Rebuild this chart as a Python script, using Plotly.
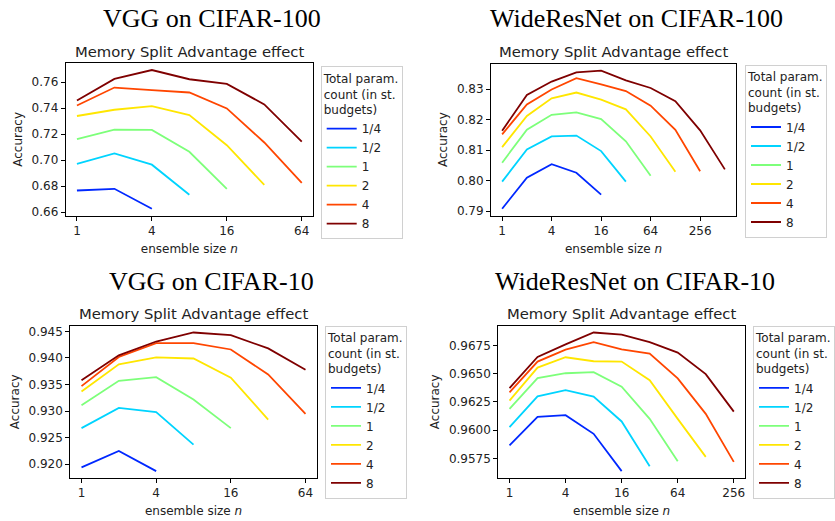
import numpy as np
import plotly.graph_objects as go

# ---------------- data ----------------
budget_labels = ["1/4", "1/2", "1", "2", "4", "8"]
colors = ["#0028FF", "#00D4FF", "#7DFF7A", "#FFE600", "#FF4600", "#7F0000"]
n_values = [1, 2, 4, 8, 16, 32, 64, 128, 256, 512]

vgg_c100 = [
    [0.6766, 0.6779, 0.6626],
    [0.6972, 0.7052, 0.6965, 0.6733],
    [0.7161, 0.7235, 0.7233, 0.7064, 0.6779],
    [0.7340, 0.7388, 0.7416, 0.7347, 0.7115, 0.6809],
    [0.7421, 0.7559, 0.7539, 0.7521, 0.7398, 0.7136, 0.6824],
    [0.7460, 0.7626, 0.7694, 0.7623, 0.7587, 0.7429, 0.7143],
]
wrn_c100 = [
    [0.7908, 0.8010, 0.8054, 0.8026, 0.7954],
    [0.7997, 0.8102, 0.8145, 0.8148, 0.8097, 0.7997],
    [0.8059, 0.8167, 0.8216, 0.8224, 0.8202, 0.8129, 0.8016],
    [0.8110, 0.8212, 0.8270, 0.8289, 0.8266, 0.8234, 0.8145, 0.8029],
    [0.8152, 0.8250, 0.8299, 0.8336, 0.8316, 0.8294, 0.8246, 0.8167, 0.8031],
    [0.8164, 0.8281, 0.8325, 0.8355, 0.8361, 0.8329, 0.8304, 0.8261, 0.8165, 0.8037],
]
vgg_c10 = [
    [0.9194, 0.9225, 0.9187],
    [0.9268, 0.9306, 0.9298, 0.9237],
    [0.9311, 0.9357, 0.9364, 0.9322, 0.9268],
    [0.9337, 0.9388, 0.9401, 0.9399, 0.9363, 0.9284],
    [0.9347, 0.9402, 0.9428, 0.9428, 0.9416, 0.9369, 0.9295],
    [0.9358, 0.9405, 0.9431, 0.9448, 0.9443, 0.9418, 0.9378],
]
wrn_c10 = [
    [0.95867, 0.96118, 0.96133, 0.95969, 0.95639],
    [0.96028, 0.96300, 0.96355, 0.96297, 0.96078, 0.95683],
    [0.96189, 0.96461, 0.96504, 0.96513, 0.96385, 0.96101, 0.95727],
    [0.96262, 0.96554, 0.96645, 0.96610, 0.96607, 0.96443, 0.96101, 0.95765],
    [0.96335, 0.96607, 0.96712, 0.96779, 0.96715, 0.96677, 0.96458, 0.96145, 0.95721],
    [0.96373, 0.96648, 0.96759, 0.96864, 0.96846, 0.96779, 0.96686, 0.96496, 0.96165],
]

titles = ["VGG on CIFAR-100", "WideResNet on CIFAR-100", "VGG on CIFAR-10", "WideResNet on CIFAR-10"]
subtitle = "Memory Split Advantage effect"
legend_title = "Total param.<br>count (in st.<br>budgets)"
x_ticks_small = [1, 4, 16, 64]
x_ticks_large = [1, 4, 16, 64, 256]

# ---------------- layout geometry (pixels) ----------------
W, H = 835, 521
SANS = "DejaVu Sans"
SERIF = "Liberation Serif"
TXT = "#222222"

panels = [
    dict(data=vgg_c100, box=(65.7, 313.0, 62.7, 216.7), xt=x_ticks_small, yfmt=".2f", dtick=0.02,
         leg=(320.7, 66.0), title_xy=(212, 18), sub_y=51),
    dict(data=wrn_c100, box=(491.0, 736.0, 63.3, 216.7), xt=x_ticks_large, yfmt=".2f", dtick=0.01,
         leg=(745.0, 64.3), title_xy=(636, 18), sub_y=51),
    dict(data=vgg_c10, box=(70.3, 316.7, 327.7, 481.7), xt=x_ticks_small, yfmt=".3f", dtick=0.005,
         leg=(325.0, 327.7), title_xy=(211, 283), sub_y=316),
    dict(data=wrn_c10, box=(498.3, 745.0, 327.7, 481.7), xt=x_ticks_large, yfmt=".4f", dtick=0.0025,
         leg=(753.3, 327.7), title_xy=(635, 283), sub_y=316),
]

fig = go.Figure()
annotations = []
layout_extra = {}

for i, p in enumerate(panels):
    ax = "" if i == 0 else str(i + 1)
    leg_name = "legend" if i == 0 else f"legend{i + 1}"
    all_x, all_y = [], []
    for k, series in enumerate(p["data"]):
        xs = n_values[:len(series)]
        all_x += xs
        all_y += series
        fig.add_trace(go.Scatter(
            x=xs, y=series, mode="lines", name=budget_labels[k],
            line=dict(color=colors[k], width=1.8),
            xaxis="x" + ax, yaxis="y" + ax, legend=leg_name,
        ))
    l, r, t, b = p["box"]
    # matplotlib-like 5% margins
    lx = np.log2(all_x)
    xspan = lx.max() - lx.min()
    xr = [(lx.min() - 0.05 * xspan) * np.log10(2), (lx.max() + 0.05 * xspan) * np.log10(2)]
    ymin, ymax = min(all_y), max(all_y)
    ys = ymax - ymin
    yr = [ymin - 0.05 * ys, ymax + 0.05 * ys]

    layout_extra["xaxis" + ax] = dict(
        domain=[l / W, r / W], anchor="y" + ax, type="log", range=xr,
        tickvals=p["xt"], ticktext=[str(v) for v in p["xt"]],
        showgrid=False, zeroline=False, showline=True, mirror=True,
        linecolor="black", linewidth=1, ticks="outside", ticklen=4, tickwidth=1,
        tickcolor="black", tickfont=dict(family=SANS, size=12, color=TXT),
        title=dict(text="ensemble size <i>n</i>", font=dict(family=SANS, size=12, color=TXT), standoff=7),
    )
    layout_extra["yaxis" + ax] = dict(
        domain=[1 - b / H, 1 - t / H], anchor="x" + ax, range=yr,
        tickformat=p["yfmt"], dtick=p["dtick"], tick0=0,
        showgrid=False, zeroline=False, showline=True, mirror=True,
        linecolor="black", linewidth=1, ticks="outside", ticklen=4, tickwidth=1,
        tickcolor="black", tickfont=dict(family=SANS, size=12, color=TXT),
        title=dict(text="Accuracy", font=dict(family=SANS, size=12, color=TXT), standoff=6),
    )
    lxp, lyp = p["leg"]
    layout_extra[leg_name] = dict(
        x=lxp / W, y=1 - lyp / H, xanchor="left", yanchor="top",
        bgcolor="white", bordercolor="#d0d0d0", borderwidth=1,
        font=dict(family=SANS, size=12, color=TXT),
        title=dict(text=legend_title, font=dict(family=SANS, size=12, color=TXT), side="top"),
        itemwidth=30, tracegroupgap=0,
    )
    tx, ty = p["title_xy"]
    annotations.append(dict(
        text=titles[i], x=tx / W, y=1 - ty / H, xref="paper", yref="paper",
        xanchor="center", yanchor="middle", showarrow=False,
        font=dict(family=SERIF, size=26, color="black"),
    ))
    annotations.append(dict(
        text=subtitle, x=(l + r) / 2 / W, y=1 - p["sub_y"] / H, xref="paper", yref="paper",
        xanchor="center", yanchor="middle", showarrow=False,
        font=dict(family=SANS, size=14.8, color=TXT),
    ))

fig.update_layout(
    width=W, height=H,
    margin=dict(l=0, r=0, t=0, b=0),
    paper_bgcolor="white", plot_bgcolor="white",
    annotations=annotations,
    showlegend=True,
    **layout_extra,
)

fig.write_html("out.html")
